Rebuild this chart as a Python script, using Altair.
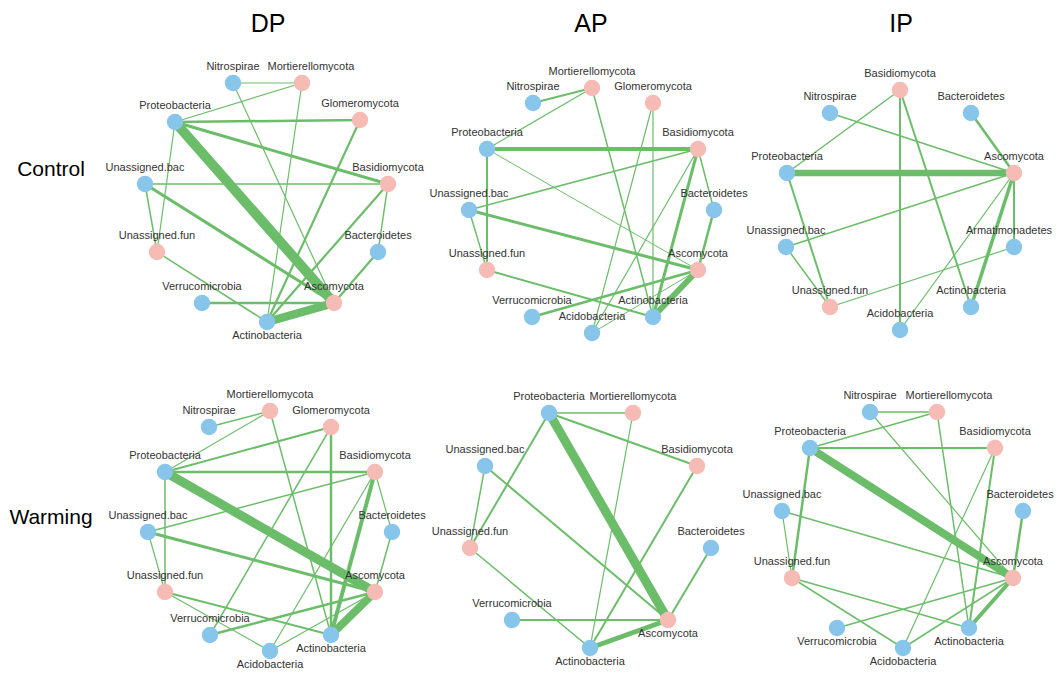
import altair as alt
import pandas as pd

# ---------------- data ----------------
sites = ["DP", "AP", "IP"]
conditions = ["Control", "Warming"]
fungi = ["Mortierellomycota", "Glomeromycota", "Basidiomycota", "Ascomycota", "Unassigned.fun"]

# node layout offsets (from panel centre) for each network
dp_control_nodes = ["Nitrospirae", "Mortierellomycota", "Proteobacteria", "Glomeromycota", "Unassigned.bac",
                    "Basidiomycota", "Unassigned.fun", "Bacteroidetes", "Verrucomicrobia", "Ascomycota", "Actinobacteria"]
dp_control_dx = [-35, 34, -93, 92, -123, 120, -111, 110, -66, 66, -1]
dp_control_dy = [-122, -122, -83, -85, -21, -21, 47, 47, 98, 98, 117]
dp_control_below = ["Actinobacteria"]
dp_control_edges = [
    ("Nitrospirae", "Mortierellomycota", 1.2), ("Proteobacteria", "Mortierellomycota", 1.2),
    ("Proteobacteria", "Glomeromycota", 2.5), ("Proteobacteria", "Basidiomycota", 3),
    ("Proteobacteria", "Ascomycota", 10), ("Proteobacteria", "Unassigned.fun", 1.2),
    ("Nitrospirae", "Ascomycota", 1.2), ("Mortierellomycota", "Actinobacteria", 1.2),
    ("Glomeromycota", "Actinobacteria", 2.2), ("Unassigned.bac", "Basidiomycota", 1.5),
    ("Unassigned.bac", "Unassigned.fun", 1.5), ("Unassigned.bac", "Ascomycota", 3),
    ("Basidiomycota", "Actinobacteria", 2.2), ("Basidiomycota", "Bacteroidetes", 1.5),
    ("Bacteroidetes", "Ascomycota", 2.2), ("Unassigned.fun", "Actinobacteria", 1.5),
    ("Verrucomicrobia", "Ascomycota", 2.5), ("Actinobacteria", "Ascomycota", 8.5),
]

ap_control_nodes = ["Mortierellomycota", "Nitrospirae", "Glomeromycota", "Proteobacteria", "Basidiomycota",
                    "Unassigned.bac", "Bacteroidetes", "Unassigned.fun", "Ascomycota", "Verrucomicrobia",
                    "Actinobacteria", "Acidobacteria"]
ap_control_dx = [1, -58, 62, -104, 107, -122, 123, -104, 107, -59, 62, 1]
ap_control_dy = [-117, -102, -102, -56, -56, 5, 5, 65, 65, 112, 112, 128]
ap_control_below = []
ap_control_edges = [
    ("Nitrospirae", "Mortierellomycota", 2), ("Proteobacteria", "Mortierellomycota", 1.2),
    ("Mortierellomycota", "Actinobacteria", 1.5), ("Glomeromycota", "Acidobacteria", 1.2),
    ("Glomeromycota", "Actinobacteria", 1.2), ("Proteobacteria", "Basidiomycota", 4),
    ("Proteobacteria", "Unassigned.fun", 2), ("Proteobacteria", "Ascomycota", 1),
    ("Unassigned.bac", "Basidiomycota", 1.5), ("Unassigned.bac", "Ascomycota", 3),
    ("Unassigned.bac", "Unassigned.fun", 1.5), ("Basidiomycota", "Bacteroidetes", 1.5),
    ("Basidiomycota", "Actinobacteria", 3), ("Basidiomycota", "Acidobacteria", 1.2),
    ("Bacteroidetes", "Ascomycota", 2.5), ("Unassigned.fun", "Actinobacteria", 2),
    ("Verrucomicrobia", "Ascomycota", 2.5), ("Actinobacteria", "Ascomycota", 6),
    ("Acidobacteria", "Ascomycota", 1),
]

ip_control_nodes = ["Basidiomycota", "Nitrospirae", "Bacteroidetes", "Proteobacteria", "Ascomycota",
                    "Unassigned.bac", "Armatimonadetes", "Unassigned.fun", "Actinobacteria", "Acidobacteria"]
ip_control_dx = [-1, -71, 70, -114, 113, -115, 113, -71, 70, -1]
ip_control_dy = [-115, -92, -92, -32, -32, 42, 42, 102, 102, 125]
ip_control_below = []
ip_control_edges = [
    ("Basidiomycota", "Proteobacteria", 1.5), ("Basidiomycota", "Acidobacteria", 2),
    ("Basidiomycota", "Actinobacteria", 2), ("Nitrospirae", "Ascomycota", 1.5),
    ("Bacteroidetes", "Ascomycota", 2.5), ("Proteobacteria", "Ascomycota", 6.5),
    ("Proteobacteria", "Unassigned.fun", 2), ("Unassigned.bac", "Ascomycota", 1.5),
    ("Unassigned.bac", "Unassigned.fun", 1.5), ("Ascomycota", "Armatimonadetes", 2),
    ("Ascomycota", "Actinobacteria", 3.5), ("Ascomycota", "Acidobacteria", 1.2),
    ("Armatimonadetes", "Unassigned.fun", 1.2),
]

dp_warming_nodes = ["Mortierellomycota", "Nitrospirae", "Glomeromycota", "Proteobacteria", "Basidiomycota",
                    "Unassigned.bac", "Bacteroidetes", "Unassigned.fun", "Ascomycota", "Verrucomicrobia",
                    "Actinobacteria", "Acidobacteria"]
dp_warming_dx = [2, -59, 63, -103, 107, -120, 124, -103, 107, -58, 63, 2]
dp_warming_dy = [-120, -104, -104, -59, -59, 1, 1, 61, 61, 104, 104, 120]
dp_warming_below = ["Actinobacteria", "Acidobacteria"]
dp_warming_edges = [
    ("Nitrospirae", "Mortierellomycota", 1.5), ("Proteobacteria", "Mortierellomycota", 1.2),
    ("Mortierellomycota", "Actinobacteria", 1.5), ("Proteobacteria", "Glomeromycota", 2),
    ("Glomeromycota", "Verrucomicrobia", 1.5), ("Glomeromycota", "Actinobacteria", 2.5),
    ("Proteobacteria", "Basidiomycota", 2.5), ("Proteobacteria", "Ascomycota", 9),
    ("Proteobacteria", "Unassigned.fun", 1.5), ("Unassigned.bac", "Basidiomycota", 1.5),
    ("Unassigned.bac", "Ascomycota", 3), ("Unassigned.bac", "Unassigned.fun", 1.2),
    ("Basidiomycota", "Bacteroidetes", 1.2), ("Basidiomycota", "Actinobacteria", 4),
    ("Basidiomycota", "Acidobacteria", 1.2), ("Bacteroidetes", "Ascomycota", 1.5),
    ("Unassigned.fun", "Actinobacteria", 2), ("Unassigned.fun", "Acidobacteria", 1.2),
    ("Verrucomicrobia", "Ascomycota", 2.5), ("Actinobacteria", "Ascomycota", 8),
    ("Acidobacteria", "Ascomycota", 1.2),
]

ap_warming_nodes = ["Proteobacteria", "Mortierellomycota", "Unassigned.bac", "Basidiomycota", "Unassigned.fun",
                    "Bacteroidetes", "Verrucomicrobia", "Ascomycota", "Actinobacteria"]
ap_warming_dx = [-42, 42, -106, 106, -121, 120, -79, 77, -1]
ap_warming_dy = [-118, -118, -65, -65, 17, 17, 89, 89, 117]
ap_warming_below = ["Ascomycota", "Actinobacteria"]
ap_warming_edges = [
    ("Proteobacteria", "Mortierellomycota", 1.5), ("Proteobacteria", "Basidiomycota", 2),
    ("Proteobacteria", "Ascomycota", 9), ("Proteobacteria", "Unassigned.fun", 2),
    ("Mortierellomycota", "Actinobacteria", 1.2), ("Unassigned.bac", "Unassigned.fun", 1.5),
    ("Unassigned.bac", "Ascomycota", 2), ("Basidiomycota", "Actinobacteria", 2),
    ("Unassigned.fun", "Actinobacteria", 1.5), ("Bacteroidetes", "Ascomycota", 2),
    ("Verrucomicrobia", "Ascomycota", 2), ("Actinobacteria", "Ascomycota", 5),
]

ip_warming_nodes = ["Nitrospirae", "Mortierellomycota", "Proteobacteria", "Basidiomycota", "Unassigned.bac",
                    "Bacteroidetes", "Unassigned.fun", "Ascomycota", "Verrucomicrobia", "Actinobacteria",
                    "Acidobacteria"]
ip_warming_dx = [-31, 36, -91, 94, -119, 122, -109, 112, -64, 68, 2]
ip_warming_dy = [-119, -119, -83, -83, -20, -20, 47, 47, 97, 97, 117]
ip_warming_below = ["Verrucomicrobia", "Actinobacteria", "Acidobacteria"]
ip_warming_edges = [
    ("Nitrospirae", "Mortierellomycota", 1.5), ("Proteobacteria", "Mortierellomycota", 1.5),
    ("Nitrospirae", "Ascomycota", 1.2), ("Mortierellomycota", "Actinobacteria", 1.5),
    ("Proteobacteria", "Basidiomycota", 2), ("Proteobacteria", "Ascomycota", 8),
    ("Proteobacteria", "Unassigned.fun", 2.5), ("Basidiomycota", "Acidobacteria", 1.2),
    ("Basidiomycota", "Actinobacteria", 2), ("Unassigned.bac", "Ascomycota", 1.5),
    ("Unassigned.bac", "Unassigned.fun", 1.2), ("Bacteroidetes", "Ascomycota", 2.5),
    ("Unassigned.fun", "Actinobacteria", 1.5), ("Unassigned.fun", "Acidobacteria", 1.5),
    ("Verrucomicrobia", "Ascomycota", 1.5), ("Acidobacteria", "Ascomycota", 1.5),
    ("Actinobacteria", "Ascomycota", 4),
]

panels = {
    ("DP", "Control"): (dp_control_nodes, dp_control_dx, dp_control_dy, dp_control_below, dp_control_edges),
    ("AP", "Control"): (ap_control_nodes, ap_control_dx, ap_control_dy, ap_control_below, ap_control_edges),
    ("IP", "Control"): (ip_control_nodes, ip_control_dx, ip_control_dy, ip_control_below, ip_control_edges),
    ("DP", "Warming"): (dp_warming_nodes, dp_warming_dx, dp_warming_dy, dp_warming_below, dp_warming_edges),
    ("AP", "Warming"): (ap_warming_nodes, ap_warming_dx, ap_warming_dy, ap_warming_below, ap_warming_edges),
    ("IP", "Warming"): (ip_warming_nodes, ip_warming_dx, ip_warming_dy, ip_warming_below, ip_warming_edges),
}

# ---------------- layout (style) ----------------
col_cx = {"DP": 268, "AP": 591, "IP": 901}
row_cy = {"Control": 205, "Warming": 531}
col_title_y = 24
row_title_x = 51
row_title_y = {"Control": 170, "Warming": 518}
label_nudge = {("DP", "Control", "Mortierellomycota"): 9, ("IP", "Warming", "Mortierellomycota"): 12,
               ("IP", "Warming", "Bacteroidetes"): -3, ("IP", "Control", "Armatimonadetes"): -5}

node_rows, edge_rows = [], []
for (site, cond), (names, dxs, dys, below, edges) in panels.items():
    pos = {}
    for n, dx, dy in zip(names, dxs, dys):
        x, y = col_cx[site] + dx, row_cy[cond] + dy
        pos[n] = (x, y)
        node_rows.append(dict(site=site, cond=cond, name=n, x=x, y=y,
                              lx=x + label_nudge.get((site, cond, n), 0),
                              kind="fun" if n in fungi else "bac",
                              pos="below" if n in below else "above"))
    for a, b, w in edges:
        edge_rows.append(dict(site=site, cond=cond, x=pos[a][0], y=pos[a][1],
                              x2=pos[b][0], y2=pos[b][1], w=w))

nodes_df = pd.DataFrame(node_rows)
edges_df = pd.DataFrame(edge_rows).sort_values("w")
col_titles = pd.DataFrame({"t": sites, "x": [col_cx[s] for s in sites], "y": [col_title_y] * 3})
row_titles = pd.DataFrame({"t": conditions, "x": [row_title_x] * 2, "y": [row_title_y[c] for c in conditions]})

W, H = 1046, 662
xs = alt.Scale(domain=[8, 8 + W])
ys = alt.Scale(domain=[8, 8 + H], reverse=True)
X = alt.X("x:Q", scale=xs, axis=None)
Y = alt.Y("y:Q", scale=ys, axis=None)
LX = alt.X("lx:Q", scale=xs, axis=None)
FONT = "Liberation Sans"

edges = alt.Chart(edges_df).mark_rule(color="#6cbd6a", strokeCap="butt").encode(
    x=X, y=Y, x2="x2:Q", y2="y2:Q",
    strokeWidth=alt.StrokeWidth("w:Q", scale=alt.Scale(domain=[1, 10], range=[1, 10]), legend=None),
)

nodes = alt.Chart(nodes_df).mark_circle(size=270, opacity=1).encode(
    x=X, y=Y,
    color=alt.Color("kind:N", scale=alt.Scale(domain=["bac", "fun"], range=["#88c5ea", "#f5bbb4"]), legend=None),
)

labels_above = alt.Chart(nodes_df).transform_filter(alt.datum.pos == "above").mark_text(
    font=FONT, fontSize=11, color="#333333", dy=-16, baseline="middle"
).encode(x=LX, y=Y, text="name:N")

labels_below = alt.Chart(nodes_df).transform_filter(alt.datum.pos == "below").mark_text(
    font=FONT, fontSize=11, color="#333333", dy=14, baseline="middle"
).encode(x=LX, y=Y, text="name:N")

ctitles = alt.Chart(col_titles).mark_text(font=FONT, fontSize=25, color="black", baseline="middle").encode(
    x=X, y=Y, text="t:N")
rtitles = alt.Chart(row_titles).mark_text(font=FONT, fontSize=21, color="black", baseline="middle").encode(
    x=X, y=Y, text="t:N")

chart = alt.layer(edges, nodes, labels_above, labels_below, ctitles, rtitles).properties(
    width=W, height=H, autosize=alt.AutoSizeParams(type="none"), padding=0
).configure_view(stroke=None)

chart.save("out.html", embed_options={"renderer": "svg", "actions": False})
